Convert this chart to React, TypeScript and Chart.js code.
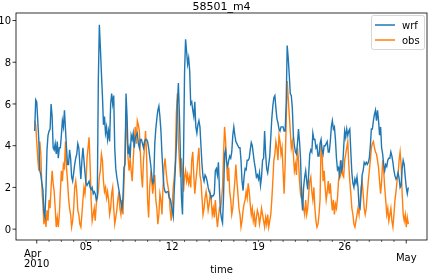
import { useEffect, useRef } from 'react';
import { Chart, registerables } from 'chart.js';

Chart.register(...registerables);

const TITLE = '58501_m4';
const X_LABEL = 'time';
const SERIES_NAMES = ['wrf', 'obs'];
const SERIES_COLORS = ['#1f77b4', '#ff7f0e'];
// sampling: hours relative to 2010-04-01 00:00, every 2 hours
const START_HOUR = -4;
const STEP_HOURS = 2;

const wrf = [
  4.7, 6.2, 6.1, 5.2, 4.3, 2.8, 2.6, 2.2, 1.9, 0.8,
  0.6, 1.9, 3.8, 4.5, 4.7, 4.8, 6.0, 5.4, 3.9, 3.8,
  4.1, 3.6, 4.2, 3.4, 3.9, 3.9, 4.5, 5.2, 4.9, 5.7,
  4.8, 3.9, 3.1, 3.1, 3.8, 3.4, 2.5, 2.3, 2.7, 3.1,
  3.4, 3.6, 4.1, 3.9, 3.1, 2.4, 3.3, 3.9, 3.3, 2.7,
  2.2, 2.1, 2.2, 2.3, 2.0, 1.9, 2.0, 1.7, 1.8, 1.7,
  1.4, 1.5, 7.1, 9.8, 8.7, 7.5, 6.4, 5.0, 5.4, 4.6,
  4.9, 4.3, 4.7, 4.2, 6.0, 6.5, 6.0, 6.4, 3.9, 2.9,
  2.5, 2.2, 1.9, 1.6, 1.3, 1.0, 1.5, 2.95, 3.1, 6.5,
  5.4, 3.6, 3.9, 3.4, 4.5, 4.3, 4.6, 3.9, 4.4, 4.5,
  4.6, 4.1, 3.9, 4.3, 4.3, 4.1, 3.9, 4.2, 4.3, 4.3,
  4.2, 3.9, 3.5, 3.1, 2.6, 2.2, 2.3,
  4.1, 4.8, 5.3, 5.7, 5.9, 5.4, 4.7, 3.6, 2.7, 2.0,
  1.8, 1.75, 1.8, 1.8, 1.5, 1.45, 1.2, 0.9, 0.6, 1.9,
  2.9, 4.0, 6.0, 7.0, 5.5, 3.5, 1.5, 0.7, 3.5, 7.5,
  9.1, 8.5, 7.9, 8.2, 7.6, 6.0, 6.1, 5.7, 5.4, 6.1,
  4.9, 4.6, 5.0, 5.2, 4.9, 4.0, 3.1, 2.5, 2.3, 2.6,
  2.5, 2.3, 2.0, 1.8, 1.7, 1.5, 1.6, 1.6, 1.7, 2.8,
  2.9, 2.6, 3.2, 1.9, 0.85, 0.5, 0.3, 1.6, 3.6, 3.8,
  3.2, 3.0, 3.3, 3.5, 3.4, 3.7, 4.5, 4.9, 4.5, 4.2,
  4.1, 4.0, 3.9, 3.9, 3.3, 2.3, 1.85, 2.5, 2.9, 2.85,
  3.3, 3.3, 3.4, 3.8, 4.15, 4.0, 3.6, 3.2, 2.9, 2.5,
  2.6, 2.4, 2.7, 2.1, 2.5, 3.3, 3.4, 4.7, 3.6, 2.9,
  2.7, 3.1, 3.5, 4.4, 5.3, 5.9, 6.3, 6.4, 5.8, 5.3,
  5.1, 4.8,
  4.7, 4.9, 4.9, 4.9, 4.7, 4.7, 6.0, 8.8, 8.2, 7.4,
  6.5, 6.4, 5.8, 4.5, 4.0, 3.7, 3.6, 4.1, 4.8, 4.2,
  3.4, 1.6, 0.9, 2.0, 2.5, 2.8, 2.3, 1.9, 2.7, 3.6,
  3.8, 3.7, 4.6, 4.3, 4.3, 3.9, 4.0, 3.5, 3.5, 4.1,
  4.3, 3.8, 3.6, 4.0, 4.0, 4.1, 4.2, 3.7, 3.7, 4.2,
  4.9, 5.2, 4.8, 4.9, 4.3, 3.4, 2.85, 2.95, 2.6, 3.3,
  2.8, 3.0, 3.9, 4.7, 4.4, 4.8, 4.5, 4.7, 4.8, 3.7,
  2.7, 2.2, 2.0, 2.4, 2.2, 2.5, 2.0, 1.1, 1.0, 1.7,
  2.6, 2.8, 3.2, 3.1, 3.2, 3.1, 3.2, 3.4, 4.0, 4.8,
  4.8, 5.2, 5.5, 5.7, 5.2, 5.7, 5.2, 4.5, 4.9, 3.9,
  3.6, 3.1, 2.8, 3.1, 3.0, 3.3, 3.4, 3.4, 3.7, 3.5,
  3.2, 2.8, 2.55, 2.4, 2.5, 2.7, 2.45, 2.0, 2.1, 2.9,
  3.3, 3.1, 2.5, 2.0, 1.7, 2.0,
];

const obs = [
  5.2, 5.0, 4.2, 3.4, 2.8, 4.2, 3.6, 2.0, 1.2, 0.24,
  0.7, 0.1, 0.9, 0.4, 1.4, 1.0, 2.0, 2.8, 2.2, 1.8,
  1.0, 0.1, 0.56, 0.1, 0.7, 1.8, 2.8, 2.3, 3.1, 2.95,
  4.2, 2.95, 2.3, 1.5, 1.0, 0.7, 0.1, 0.4, 1.0, 2.0,
  2.3, 1.8, 0.9, 0.7, 0.24, 0.1, 0.7, 1.4, 2.0, 1.7,
  2.3, 3.4, 3.9, 4.4, 3.1, 1.4, 0.4, 0.7, 1.0, 0.4,
  1.2, 1.5, 1.8, 2.5, 2.8, 3.6, 3.3, 2.3, 1.8, 2.0,
  1.5, 1.8, 1.4, 0.7, 1.0, 1.7, 2.0, 1.0, 0.24, 0.56,
  0.9, 1.4, 1.8, 1.0, 0.7, 1.4, 0.7, 2.3, 3.6, 5.5,
  4.2, 3.4, 2.8, 3.4, 2.8, 2.3, 3.3, 4.2, 4.9, 4.1,
  5.2, 5.0, 4.7, 3.6, 2.6, 2.0, 3.3, 3.9, 4.7, 3.6,
  1.4, 0.56, 2.0, 2.6, 2.3, 1.7, 2.2,
  2.6, 1.4, 1.0, 0.24, 0.7, 1.7, 1.4, 0.7, 2.0, 2.95,
  3.4, 2.8, 2.3, 2.0, 1.7, 0.9, 0.4, 1.2, 2.0, 2.5,
  3.3, 5.5, 6.5, 4.2, 3.3, 2.5, 3.4, 2.6, 1.8, 2.5,
  2.8, 2.3, 2.6, 2.2, 2.5, 2.0, 3.3, 3.7, 2.6, 1.7,
  2.3, 2.8, 3.4, 3.9, 2.6, 2.3, 1.5, 0.7, 1.0, 1.5,
  1.8, 1.4, 0.9, 1.2, 1.7, 1.4, 0.7, 1.0, 0.56, 1.4,
  0.7, 0.1, 0.56, 1.0, 0.9, 1.4, 2.0, 3.6, 4.9, 4.2,
  3.1, 2.3, 2.95, 1.8, 1.4, 0.7, 1.0, 1.7, 2.3, 3.1,
  2.3, 1.7, 1.0, 0.7, 0.1, 0.4, 0.9, 1.2, 1.4, 1.8,
  1.5, 2.2, 1.8, 1.2, 0.7, 1.0, 0.4, 0.7, 0.1, 0.56,
  0.9, 0.7, 0.24, 0.56, 1.0, 0.7, 0.4, 0.1, 0.56, 0.24,
  0.7, 0.1, 0.4, 0.7, 1.4, 2.3, 3.3, 3.6, 4.2, 3.9,
  3.3, 4.5,
  4.2, 3.6, 3.9, 2.8, 1.7, 3.1, 5.0, 7.1, 6.3, 5.5,
  4.7, 3.9, 4.2, 3.6, 2.8, 3.1, 2.6, 3.9, 3.3, 2.3,
  1.7, 2.0, 1.4, 1.0, 0.7, 1.4, 0.7, 1.0, 1.7, 2.3,
  2.5, 1.8, 1.4, 2.0, 1.0, 0.4, 0.1, 0.24, 0.7, 1.4,
  4.1, 3.6, 2.3, 2.8, 2.0, 1.4, 1.8, 2.3, 1.7, 2.2,
  1.4, 0.9, 1.4, 0.7, 1.2, 1.0, 1.5, 2.3, 2.8, 2.6,
  3.3, 2.6, 2.5, 3.3, 3.6, 3.9, 4.2, 3.1, 2.3, 1.7,
  1.0, 0.7, 0.24, 0.1, 0.4, 0.7, 1.0, 0.7, 1.4, 2.0,
  2.3, 1.7, 1.0, 0.7, 1.0, 1.7, 2.3, 2.8, 3.3, 3.9,
  4.1, 4.2, 3.9, 3.7, 3.6, 3.3, 2.95, 2.3, 1.7, 2.3,
  3.3, 2.8, 2.0, 1.4, 0.7, 1.0, 0.4, 0.7, 1.0, 0.4,
  0.1, 0.7, 1.4, 1.8, 2.3, 2.6, 3.3, 3.7, 3.1, 1.7,
  0.7, 0.4, 0.7, 0.1, 0.56, 0.24,
];

const yTicks = [0, 2, 4, 6, 8, 10];
const Y_MIN = -0.52;
const Y_MAX = 10.36;
// x ticks in days since 2010-04-01
const dayTicks = Array.from({ length: 31 }, (_, i) => i);
const monthTickDays = [0, 30];
const monthTickLabels = [['Apr', '2010'], ['May']];
const weekTickDays = [4, 11, 18, 25];
const weekTickLabels = ['05', '12', '19', '26'];

const FONT = '"DejaVu Sans", sans-serif';

const mplPlugin = {
  id: 'mplDecor',
  afterDraw(chart: any) {
    const { ctx, chartArea: a, scales } = chart;
    const xs = scales.x;
    const ys = scales.y;
    ctx.save();
    ctx.strokeStyle = '#000';
    ctx.fillStyle = '#000';
    // spines
    ctx.lineWidth = 0.8;
    ctx.strokeRect(a.left, a.top, a.right - a.left, a.bottom - a.top);

    const line = (x1: number, y1: number, x2: number, y2: number) => {
      ctx.beginPath();
      ctx.moveTo(x1, y1);
      ctx.lineTo(x2, y2);
      ctx.stroke();
    };

    // y ticks
    ctx.font = `10px ${FONT}`;
    ctx.textAlign = 'right';
    ctx.textBaseline = 'alphabetic';
    for (const v of yTicks) {
      const y = ys.getPixelForValue(v);
      ctx.lineWidth = 0.8;
      line(a.left - 3.5, y, a.left, y);
      ctx.fillText(String(v), a.left - 5, y + 3.7);
    }

    // x ticks
    for (const d of dayTicks) {
      const x = xs.getPixelForValue(d);
      const isMonth = monthTickDays.includes(d);
      ctx.lineWidth = isMonth ? 0.8 : 0.6;
      line(x, a.bottom, x, a.bottom + (isMonth ? 3.5 : 2));
    }
    ctx.textAlign = 'center';
    weekTickDays.forEach((d, i) => {
      const x = xs.getPixelForValue(d);
      ctx.fillText(weekTickLabels[i], x, a.bottom + 10);
    });
    monthTickDays.forEach((d, i) => {
      const x = xs.getPixelForValue(d);
      const lines = monthTickLabels[i];
      const widths = lines.map((s) => ctx.measureText(s).width);
      const w = Math.max(...widths);
      ctx.textAlign = 'left';
      const top = lines.length > 1 ? a.bottom + 17 : a.bottom + 21;
      lines.forEach((s, k) => {
        ctx.fillText(s, x - w / 2, top + k * 10);
      });
    });

    // x label
    ctx.textAlign = 'center';
    ctx.fillText(X_LABEL, (a.left + a.right) / 2, a.bottom + 33);

    // title
    ctx.font = `11px ${FONT}`;
    ctx.fillText(TITLE, (a.left + a.right) / 2, a.top - 3);

    // legend
    const lx = a.right - 56;
    const ly = a.top + 2;
    const lw = 53;
    const lh = 34;
    ctx.beginPath();
    ctx.roundRect(lx + 0.5, ly + 0.5, lw, lh, 2);
    ctx.fillStyle = 'rgba(255,255,255,0.8)';
    ctx.fill();
    ctx.strokeStyle = '#cccccc';
    ctx.lineWidth = 0.8;
    ctx.stroke();
    ctx.font = `10px ${FONT}`;
    ctx.textAlign = 'left';
    chart.data.datasets.forEach((ds: any, i: number) => {
      const yy = ly + 10 + i * 15;
      ctx.strokeStyle = ds.borderColor;
      ctx.lineWidth = 1.5;
      line(lx + 4, yy, lx + 24, yy);
      ctx.fillStyle = '#000';
      ctx.fillText(ds.label, lx + 31, yy + 3.7);
    });
    ctx.restore();
  },
};

export default function App() {
  const ref = useRef<HTMLCanvasElement | null>(null);
  useEffect(() => {
    if (!ref.current) return;
    const toPoints = (vals: number[]) =>
      vals.map((v, i) => ({ x: (START_HOUR + i * STEP_HOURS) / 24, y: v }));
    const n = wrf.length;
    const x0 = START_HOUR / 24;
    const x1 = (START_HOUR + (n - 1) * STEP_HOURS) / 24;
    const margin = (x1 - x0) * 0.05;
    const chart = new Chart(ref.current, {
      type: 'line',
      data: {
        datasets: [wrf, obs].map((vals, i) => ({
          label: SERIES_NAMES[i],
          data: toPoints(vals),
          borderColor: SERIES_COLORS[i],
          backgroundColor: SERIES_COLORS[i],
          borderWidth: 1.4,
          pointRadius: 0,
          tension: 0,
          fill: false,
        })),
      },
      options: {
        animation: false,
        responsive: false,
        devicePixelRatio: 1,
        layout: { padding: { top: 13, right: 2, left: 0, bottom: 0 } },
        plugins: {
          legend: { display: false },
          title: { display: false },
          tooltip: { enabled: false },
        },
        scales: {
          x: {
            type: 'linear',
            min: x0 - margin,
            max: x1 + margin,
            grid: { display: false },
            border: { display: false },
            ticks: { display: false },
            afterFit: (s: any) => {
              s.height = 35;
            },
          },
          y: {
            type: 'linear',
            min: Y_MIN,
            max: Y_MAX,
            grid: { display: false },
            border: { display: false },
            ticks: { display: false },
            afterFit: (s: any) => {
              s.width = 16;
            },
          },
        },
      },
      plugins: [mplPlugin],
    } as any);
    return () => chart.destroy();
  }, []);
  return (
    <div style={{ position: 'absolute', left: 0, top: 0, width: 429, height: 275, background: '#fff' }}>
      <canvas ref={ref} width={429} height={275} />
    </div>
  );
}
